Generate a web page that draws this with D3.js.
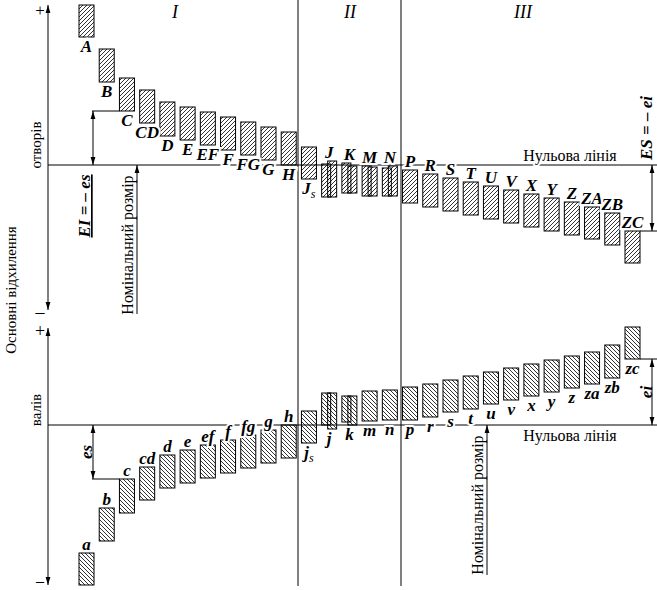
<!DOCTYPE html>
<html><head><meta charset="utf-8">
<script src="https://cdn.jsdelivr.net/npm/d3@7"></script>
<style>body{margin:0;background:#fff}svg{display:block}text{font-family:"Liberation Serif","DejaVu Serif",serif}</style>
</head><body><svg id="chart" width="657" height="590"></svg>
<script>
/* holes (upper panel) and shafts (lower panel): fundamental deviations */
const holeNames = ["A","B","C","CD","D","E","EF","F","FG","G","H","Js","J","K","M","N","P","R","S","T","U","V","X","Y","Z","ZA","ZB","ZC"];
const holeUpper = [160,116,87,75,63,58,53,48,43,38,33,18,1,2,-1,-3,-5,-9,-13,-17,-21,-25,-29,-33,-37,-42,-48,-66];
const holeUpper2 = [null,null,null,null,null,null,null,null,null,null,null,null,4,-1,-2,-1,null,null,null,null,null,null,null,null,null,null,null,null];
const holeLower = [128,83,54,42,29,25,20,15,10,5,0,-14,-32,-28,-31,-31,-38,-42,-46,-50,-54,-58,-62,-66,-70,-74,-80,-98];

const shaftNames = ["a","b","c","cd","d","e","ef","f","fg","g","h","js","j","k","m","n","p","r","s","t","u","v","x","y","z","za","zb","zc"];
const shaftUpper = [-128,-83,-54,-42,-30,-25,-20,-15,-10,-5,0,14,32,29,34,35,38,41,45,49,53,57,61,65,69,73,80,98];
const shaftLower = [-160,-116,-88,-75,-63,-58,-53,-48,-43,-38,-33,-18,0,3,4,5,5,8,13,16,21,25,29,33,37,41,47,66];
const shaftLower2 = [null,null,null,null,null,null,null,null,null,null,null,null,-4,0,null,null,null,null,null,null,null,null,null,null,null,null,null,null];

const groups = ["I","II","III"];

const svg = d3.select("#chart");
const F = "Liberation Serif";
const defs = svg.append("defs");
// "/" hatching for holes, "\" hatching for shafts
[["hatchUp","M0,4 L4,0 M-1,1 L1,-1 M3,5 L5,3"],["hatchDown","M0,0 L4,4 M-1,3 L1,5 M3,-1 L5,1"]].forEach(([id,p]) => {
  defs.append("pattern").attr("id",id).attr("patternUnits","userSpaceOnUse")
    .attr("width",4).attr("height",4)
    .append("path").attr("d",p).attr("stroke","#000").attr("stroke-width",0.8);
});

const x = d3.scaleLinear().domain([0,27]).range([79,625]);
const bw = 15;
const yTop = d3.scaleLinear().domain([0,100]).range([165,65]);
const yBot = d3.scaleLinear().domain([0,100]).range([425,325]);
const axX = 48;

// frame lines
svg.append("g").selectAll("line").data([298,401]).join("line")
  .attr("x1",d=>d).attr("x2",d=>d).attr("y1",0).attr("y2",586).attr("stroke","#000");
svg.append("line").attr("x1",axX).attr("x2",657).attr("y1",yTop(0)).attr("y2",yTop(0)).attr("stroke","#000");
svg.append("line").attr("x1",axX).attr("x2",657).attr("y1",yBot(0)).attr("y2",yBot(0)).attr("stroke","#000");

// arrows marker
defs.append("marker").attr("id","arr").attr("viewBox","0 0 10 10").attr("refX",10).attr("refY",5)
  .attr("markerWidth",8).attr("markerHeight",8).attr("orient","auto-start-reverse")
  .append("path").attr("d","M0,2 L10,5 L0,8 Z").attr("fill","#000");
function arrow(x1,y1,x2,y2,both){
  const l = svg.append("line").attr("x1",x1).attr("y1",y1).attr("x2",x2).attr("y2",y2)
    .attr("stroke","#000").attr("marker-end","url(#arr)");
  if(both) l.attr("marker-start","url(#arr)");
}
// vertical axes
arrow(axX,310,axX,5,true);
arrow(axX,585,axX,328,true);
function txt(t,xx,yy,opt={}){
  const e = svg.append("text").attr("x",xx).attr("y",yy).text(t)
    .attr("font-family",F).attr("font-size",opt.size||15)
    .attr("text-anchor",opt.anchor||"middle");
  if(opt.italic) e.attr("font-style","italic");
  if(opt.bold) e.attr("font-weight","bold");
  if(opt.rot) e.attr("transform",`rotate(${opt.rot},${xx},${yy})`);
  if(opt.halo) e.attr("stroke","#fff").attr("stroke-width",4).attr("paint-order","stroke");
  return e;
}
txt("+",40,16,{size:17}); txt("–",40,318,{size:18});
txt("+",40,337,{size:18}); txt("–",40,586,{size:16});
txt("Основні відхилення",16,290,{size:15,rot:-90});
txt("отворів",41,145,{size:15,rot:-90});
txt("валів",41,410,{size:15,rot:-90});

// group numerals
svg.append("g").selectAll("text").data(groups).join("text")
  .attr("x",(d,i)=>[175,350,523][i]).attr("y",18).text(d=>d)
  .attr("font-family",F).attr("font-style","italic").attr("font-size",18).attr("text-anchor","middle");

// bars
function drawBars(names, up, up2, lo, lo2, y, fill, labelPos){
  const g = svg.append("g");
  names.forEach((n,i)=>{
    const x0 = x(i);
    if(up2[i]==null && (lo2==null || lo2[i]==null)){
      g.append("rect").attr("x",x0).attr("y",y(up[i])).attr("width",bw)
        .attr("height",y(lo[i])-y(up[i])).attr("fill",`url(#${fill})`).attr("stroke","#000");
    } else {
      const u2 = up2[i]!=null?up2[i]:up[i];
      const l2 = (lo2 && lo2[i]!=null)?lo2[i]:lo[i];
      g.append("rect").attr("x",x0).attr("y",y(up[i])).attr("width",bw*0.6)
        .attr("height",y(lo[i])-y(up[i])).attr("fill",`url(#${fill})`).attr("stroke","#000");
      g.append("rect").attr("x",x0+bw*0.4).attr("y",y(u2)).attr("width",bw*0.6)
        .attr("height",y(l2)-y(u2)).attr("fill",`url(#${fill})`).attr("stroke","#000");
    }
    const above = labelPos(i);
    const topV = Math.max(up[i], up2[i]!=null?up2[i]:-999);
    const botV = Math.min(lo[i], (lo2&&lo2[i]!=null)?lo2[i]:999);
    const ly = above ? y(topV)-3 : y(botV)+15;
    const lab = txt(n, x0+bw/2, ly, {italic:true,bold:true,size:17,halo:true});
    if(n==="Js"||n==="js"){
      lab.text(n[0]).append("tspan").attr("font-size",12).attr("font-weight","normal").attr("dy",4).text("s");
    }
  });
}
drawBars(holeNames, holeUpper, holeUpper2, holeLower, null, yTop, "hatchUp", i => i>=12);
drawBars(shaftNames, shaftUpper, shaftUpper.map(()=>null), shaftLower, shaftLower2, yBot, "hatchDown", i => i<=10);

// zero line captions
txt("Нульова лінія",570,161,{size:16,halo:true});
txt("Нульова лінія",570,441,{size:16,halo:true});

// EI = -es
svg.append("line").attr("x1",92).attr("x2",x(2)).attr("y1",yTop(holeLower[2])).attr("y2",yTop(holeLower[2])).attr("stroke","#000");
arrow(93,yTop(0),93,yTop(holeLower[2]),true);
txt("EI = – es",90,206,{italic:true,bold:true,size:17,rot:-90})
  .attr("text-decoration","underline");
// ES = -ei
svg.append("line").attr("x1",x(27)+bw).attr("x2",657).attr("y1",yTop(holeUpper[27])).attr("y2",yTop(holeUpper[27])).attr("stroke","#000");
arrow(652,yTop(0),652,yTop(holeUpper[27]),true);
txt("ES = – ei",652,128,{italic:true,bold:true,size:17,rot:-90});
// es
svg.append("line").attr("x1",92).attr("x2",x(2)).attr("y1",yBot(shaftUpper[2])).attr("y2",yBot(shaftUpper[2])).attr("stroke","#000");
arrow(93,yBot(0),93,yBot(shaftUpper[2]),true);
txt("es",92,452,{italic:true,bold:true,size:17,rot:-90});
// ei
svg.append("line").attr("x1",x(27)+bw).attr("x2",657).attr("y1",yBot(shaftLower[27])).attr("y2",yBot(shaftLower[27])).attr("stroke","#000");
arrow(652,yBot(0),652,yBot(shaftLower[27]),true);
txt("ei",652,392,{italic:true,bold:true,size:17,rot:-90});

// nominal size
arrow(137,314,137,yTop(0));
txt("Номінальний розмір",133,245,{size:16,rot:-90});
arrow(487,575,487,yBot(0));
txt("Номінальний розмір",483,505,{size:16,rot:-90});
</script></body></html>
